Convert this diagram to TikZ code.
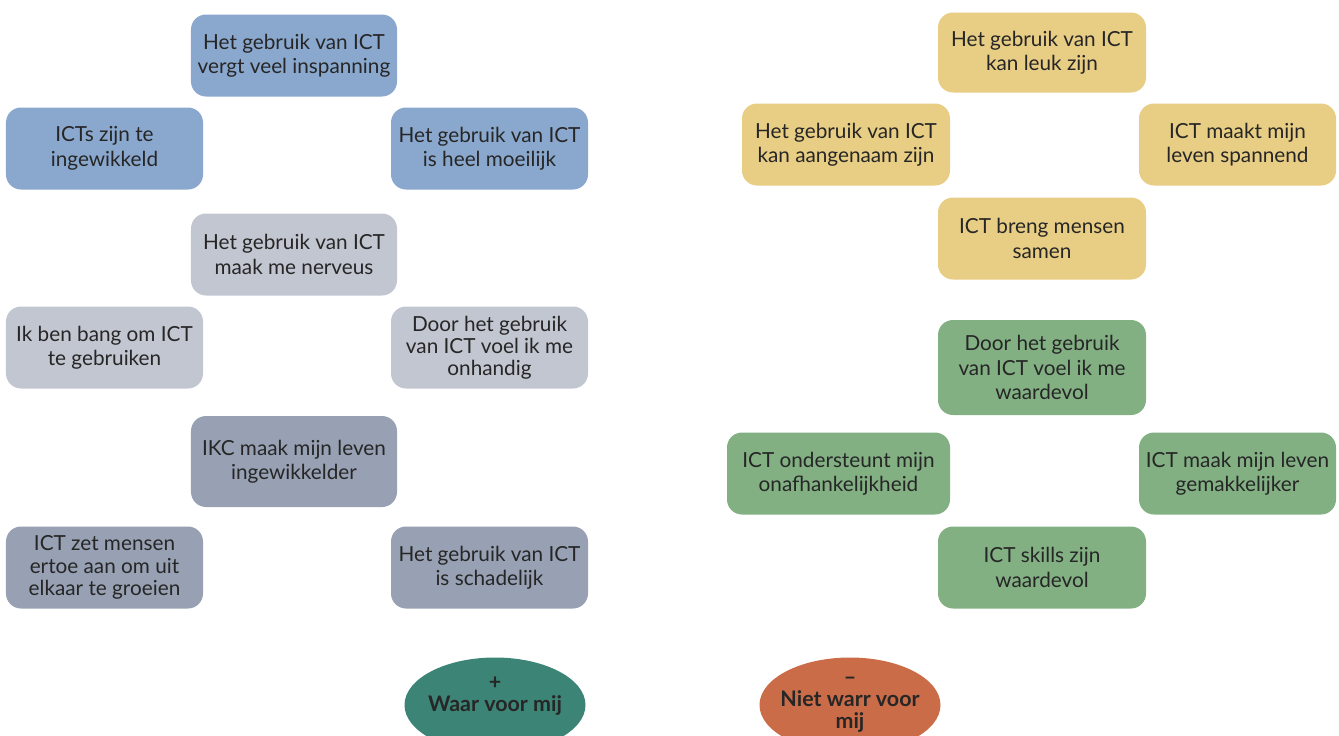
\documentclass[tikz,border=0pt]{standalone}
\usepackage{fontspec}
\setmainfont{Lato}
\usetikzlibrary{shapes.geometric}

\definecolor{blueict}{HTML}{8AA8CE}
\definecolor{greyict}{HTML}{C2C6D1}
\definecolor{slateict}{HTML}{97A1B3}
\definecolor{yellowict}{HTML}{E8CD84}
\definecolor{greenict}{HTML}{82B083}
\definecolor{tealict}{HTML}{3C8576}
\definecolor{orangeict}{HTML}{CB6C48}
\definecolor{textict}{HTML}{262626}

\begin{document}
\begin{tikzpicture}[x=0.2mm, y=-0.2mm,
    every node/.style={font=\fontsize{11.8}{13.9}\selectfont, text=textict, align=center},
    box/.style={rounded corners=3mm, inner sep=0pt, minimum width=#1, minimum height=16.4mm},
    box/.default=39.4mm,
    tight/.style={font=\fontsize{11.8}{12.6}\selectfont},
    oval/.style={ellipse, inner sep=0pt, minimum width=36.2mm, minimum height=19mm},
    ovaltext/.style={anchor=north, inner sep=0pt, font=\bfseries\fontsize{12.2}{12.4}\selectfont}]

\useasboundingbox (0,0) rectangle (1339,735);
\clip (0,0) rectangle (1339,735);

% left: negative
\node[box=41.2mm, fill=blueict] (b0) at (294,55.5) {Het gebruik van ICT\\vergt veel inspanning};
\node[box, fill=blueict] (b1) at (104.5,148.5) {ICTs zijn te\\ingewikkeld};
\node[box, fill=blueict] (b2) at (489.5,148.5) {Het gebruik van ICT\\is heel moeilijk};

\node[box=41.2mm, fill=greyict] (g0) at (294,254.5) {Het gebruik van ICT\\maak me nerveus};
\node[box, fill=greyict] (g1) at (104.5,347.5) {Ik ben bang om ICT\\te gebruiken};
\node[box, fill=greyict, tight] (g2) at (489.5,347.5) {Door het gebruik\\van ICT voel ik me\\onhandig};

\node[box=41.2mm, fill=slateict, minimum height=18.2mm] (d0) at (294,461.5) {IKC maak mijn leven\\ingewikkelder};
\node[box, fill=slateict, tight] (d1) at (104.5,567.5) {ICT zet mensen\\ertoe aan om uit\\elkaar te groeien};
\node[box, fill=slateict] (d2) at (489.5,567.5) {Het gebruik van ICT\\is schadelijk};

% right: positive
\node[box=41.6mm, fill=yellowict, minimum height=16mm] (y0) at (1042,52.5) {Het gebruik van ICT\\kan leuk zijn};
\node[box=41.6mm, fill=yellowict] (y1) at (846,144.5) {Het gebruik van ICT\\kan aangenaam zijn};
\node[box, fill=yellowict] (y2) at (1237.5,144.5) {ICT maakt mijn\\leven spannend};
\node[box=41.6mm, fill=yellowict] (y3) at (1042,238.5) {ICT breng mensen\\samen};

\node[box=41.6mm, fill=greenict, minimum height=19mm] (r0) at (1042,367.5) {Door het gebruik\\van ICT voel ik me\\waardevol};
\node[box=44.6mm, fill=greenict] (r1) at (838.5,473.5) {ICT ondersteunt mijn\\onafhankelijkheid};
\node[box, fill=greenict] (r2) at (1237.5,473.5) {ICT maak mijn leven\\gemakkelijker};
\node[box=41.6mm, fill=greenict] (r3) at (1042,567.5) {ICT skills zijn\\waardevol};

% legend
\node[oval, fill=tealict] (waar) at (495,705) {};
\node[ovaltext] (waartxt) at (waar.north |- 0,677) {+\\Waar voor mij};
\node[oval, fill=orangeict] (niet) at (850,705) {};
\node[ovaltext] (niettxt) at (niet.north |- 0,677) {–\\Niet warr voor\\mij};

\end{tikzpicture}
\end{document}
